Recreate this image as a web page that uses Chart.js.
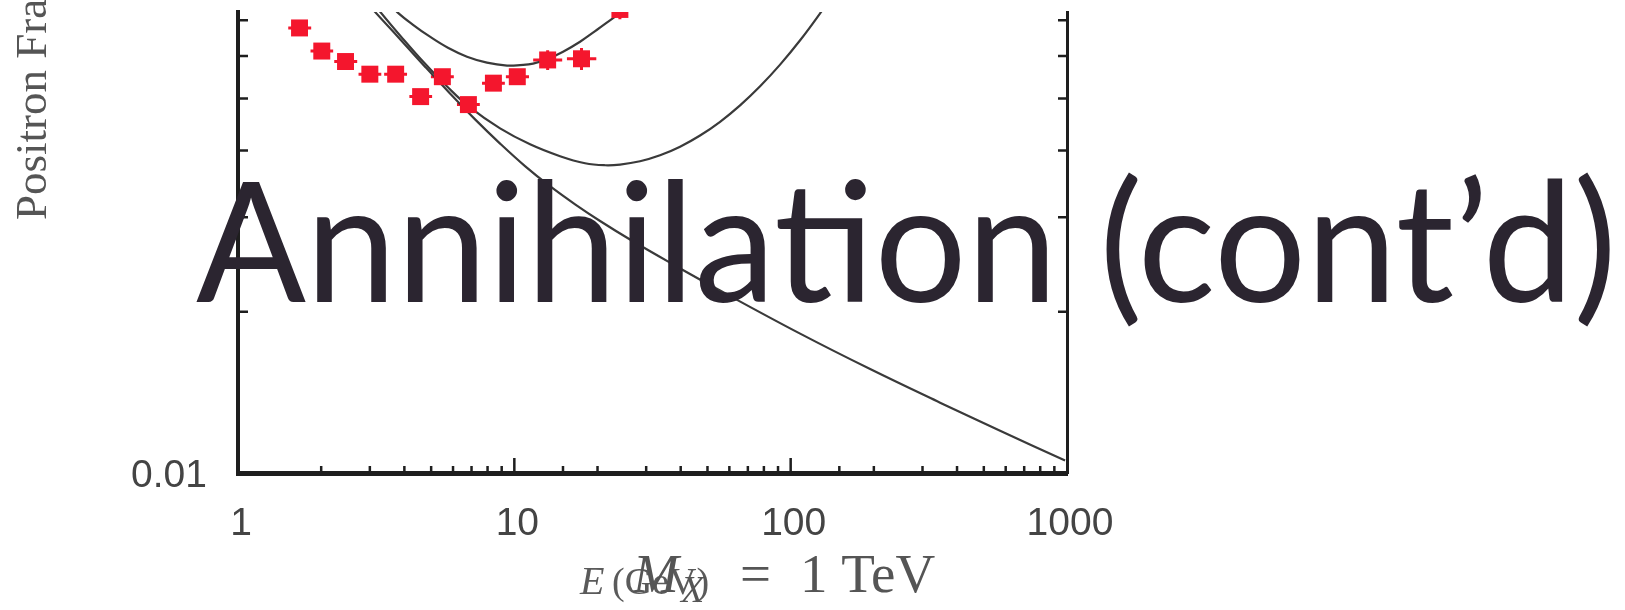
<!DOCTYPE html>
<html>
<head>
<meta charset="utf-8">
<script src="https://cdn.jsdelivr.net/npm/chart.js@4.4.1/dist/chart.umd.min.js"></script>
<style>
html,body{margin:0;padding:0;background:#ffffff;}
#wrap{position:relative;width:1625px;height:610px;overflow:hidden;}
</style>
</head>
<body>
<div id="wrap"><canvas id="c" width="1625" height="610"></canvas></div>
<script>
// ---------------- data ----------------
// measured points (red squares)
const heatEnergy     = [1.67, 2.01, 2.45, 3.00, 3.72, 4.58, 5.49, 6.82, 8.40, 10.25, 13.2, 17.5, 24.1];
const heatFraction   = [0.0677, 0.0613, 0.0586, 0.0555, 0.0555, 0.0504, 0.0549, 0.0487, 0.0534, 0.0549, 0.0590, 0.0593, 0.0733];
const heatFracErr    = [0.0015, 0.0015, 0.0015, 0.0015, 0.0015, 0.0015, 0.0015, 0.0015, 0.0015, 0.0015, 0.0025, 0.0028, 0.0030];
const heatEnergyLow  = [1.52, 1.83, 2.23, 2.73, 3.38, 4.17, 4.99, 6.20, 7.64, 9.32, 11.7, 15.5, 21.3];
const heatEnergyHigh = [1.84, 2.21, 2.70, 3.30, 4.09, 5.04, 6.04, 7.50, 9.24, 11.3, 14.9, 19.8, 27.2];

// background only curve (falling line)
const bgEnergy   = [2.98, 3.13, 3.86, 4.75, 5.85, 7.21, 8.88, 10.93, 13.46, 16.59, 20.43, 26.22, 36.60, 55.53, 108.2, 193.9, 347.3, 572.7, 984.2];
const bgFraction = [0.07474, 0.07255, 0.06450, 0.05733, 0.05108, 0.04570, 0.04119, 0.03739, 0.03429, 0.03172, 0.02953, 0.02727, 0.02469, 0.02190, 0.01820, 0.01563, 0.01353, 0.01199, 0.01055];

// background + annihilation signal, lower curve
const lowSigEnergy   = [3.16, 3.27, 3.92, 4.71, 5.71, 6.91, 8.88, 11.40, 14.64, 18.03, 21.30, 24.13, 28.50, 33.68, 39.79, 47.00, 55.53, 65.60, 77.51, 91.56, 108.2, 127.8, 144.8];
const lowSigFraction = [0.07442, 0.07255, 0.06492, 0.05833, 0.05263, 0.04810, 0.04397, 0.04106, 0.03901, 0.03785, 0.03753, 0.03764, 0.03818, 0.03917, 0.04064, 0.04264, 0.04523, 0.04854, 0.05269, 0.05783, 0.06420, 0.07209, 0.07923];

// background + annihilation signal, upper curve
const highSigEnergy   = [3.55, 3.76, 4.30, 4.95, 5.75, 6.74, 7.96, 9.41, 10.49, 11.69, 13.24, 15.01, 17.29, 19.92, 22.57, 25.58];
const highSigFraction = [0.0751, 0.07255, 0.06862, 0.06520, 0.06218, 0.05984, 0.05833, 0.05759, 0.05770, 0.05807, 0.05933, 0.06114, 0.06381, 0.06718, 0.07042, 0.07379];

// axes
const xRange = [1, 1000];
const yRange = [0.01, 0.0725];
const xTickLabels = ['1', '10', '100', '1000'];
const yTickLabels = ['0.01'];

// texts
const slideTitle = 'Annihilation (cont\u2019d)';
const yAxisTitle = 'Positron Fraction';
const xAxisTitleVar = 'E';
const xAxisTitleUnit = '(GeV)';
const massVar = 'M';
const massSub = 'X';
const massEq = '=';
const massValue = '1 TeV';

// ---------------- chart ----------------
const RED = '#f4162d';
const LINE = '#3a3a3a';
const AXIS = '#1e1e1e';

const pts = (xs, ys) => xs.map((v, i) => ({x: v, y: ys[i]}));
const isPow10 = v => Math.abs(Math.log10(v) - Math.round(Math.log10(v))) < 1e-6;
const isHundredth = v => Math.abs(v * 100 - Math.round(v * 100)) < 1e-6;

const overlay = {
  id: 'overlay',
  beforeDatasetsDraw(chart) {
    const {ctx, chartArea: a, scales: {x, y}} = chart;
    ctx.save();
    ctx.beginPath();
    ctx.rect(a.left, a.top, a.right - a.left, a.bottom - a.top);
    ctx.clip();
    ctx.strokeStyle = RED;
    ctx.lineWidth = 3;
    ctx.beginPath();
    heatEnergy.forEach((e, i) => {
      const py = y.getPixelForValue(heatFraction[i]);
      const px = x.getPixelForValue(e);
      ctx.moveTo(x.getPixelForValue(heatEnergyLow[i]), py);
      ctx.lineTo(x.getPixelForValue(heatEnergyHigh[i]), py);
      ctx.moveTo(px, y.getPixelForValue(heatFraction[i] - heatFracErr[i]));
      ctx.lineTo(px, y.getPixelForValue(heatFraction[i] + heatFracErr[i]));
    });
    ctx.stroke();
    ctx.restore();
  },
  afterDraw(chart) {
    const {ctx, chartArea: a, scales: {x, y}} = chart;
    // inward tick marks
    ctx.save();
    ctx.strokeStyle = AXIS;
    ctx.lineWidth = 2.5;
    ctx.beginPath();
    x.ticks.forEach(t => {
      const v = t.value;
      if (v <= x.min * 1.0001 || v >= x.max * 0.9999) return;
      const px = x.getPixelForValue(v);
      const len = isPow10(v) ? 15 : 7;
      ctx.moveTo(px, a.bottom);
      ctx.lineTo(px, a.bottom - len);
    });
    y.ticks.forEach(t => {
      const v = t.value;
      if (!isHundredth(v) || v <= y.min * 1.0001 || v >= y.max * 0.995) return;
      const py = y.getPixelForValue(v);
      ctx.moveTo(a.left, py); ctx.lineTo(a.left + 10, py);
      ctx.moveTo(a.right, py); ctx.lineTo(a.right - 9, py);
    });
    ctx.stroke();
    ctx.restore();

    // y axis title (rotated, reads upward)
    ctx.save();
    ctx.fillStyle = '#555555';
    ctx.font = '45px "Liberation Serif", serif';
    ctx.textAlign = 'left';
    ctx.textBaseline = 'alphabetic';
    ctx.translate(46, 220);
    ctx.rotate(-Math.PI / 2);
    ctx.fillText(yAxisTitle, 0, 0);
    ctx.restore();

    // x axis title
    ctx.save();
    ctx.fillStyle = '#5a5a5a';
    ctx.textBaseline = 'alphabetic';
    ctx.font = 'italic 40px "Liberation Serif", serif';
    ctx.fillText(xAxisTitleVar, 580, 594);
    ctx.font = '38px "Liberation Serif", serif';
    ctx.fillText(xAxisTitleUnit, 612, 594);
    ctx.restore();

    // M_X = 1 TeV
    ctx.save();
    ctx.fillStyle = '#555555';
    ctx.textBaseline = 'alphabetic';
    ctx.font = 'italic 55px "Liberation Serif", serif';
    ctx.fillText(massVar, 633, 592);
    ctx.font = 'italic 38px "Liberation Serif", serif';
    ctx.fillText(massSub, 681, 602);
    ctx.font = '55px "Liberation Serif", serif';
    ctx.fillText(massEq, 740, 592);
    ctx.fillText(massValue, 800, 592);
    ctx.restore();

    // slide title on top
    ctx.save();
    ctx.fillStyle = '#2b2530';
    ctx.textBaseline = 'alphabetic';
    ctx.font = '167px Lato, "Open Sans", sans-serif';
    const w = ctx.measureText(slideTitle).width;
    const sx = 1421 / w;
    ctx.translate(196, 302);
    ctx.scale(sx, 1);
    ctx.fillText(slideTitle, 0, 0);
    ctx.restore();
  }
};

const curveStyle = {
  showLine: true, pointRadius: 0, borderColor: LINE, borderWidth: 2.2,
  tension: 0.4, cubicInterpolationMode: 'default', capBezierPoints: false
};

new Chart(document.getElementById('c'), {
  type: 'scatter',
  data: {
    datasets: [
      {
        label: 'HEAT',
        data: pts(heatEnergy, heatFraction),
        pointStyle: 'rect',
        pointRadius: 12,
        pointBackgroundColor: RED,
        pointBorderWidth: 0,
        borderWidth: 0,
        order: 0
      },
      Object.assign({label: 'background', data: pts(bgEnergy, bgFraction), order: 3}, curveStyle),
      Object.assign({label: 'signal low', data: pts(lowSigEnergy, lowSigFraction), order: 2}, curveStyle),
      Object.assign({label: 'signal high', data: pts(highSigEnergy, highSigFraction), order: 1}, curveStyle)
    ]
  },
  options: {
    responsive: false,
    animation: false,
    devicePixelRatio: 1,
    events: [],
    layout: {padding: {left: 0, top: 10, right: 558, bottom: 0}},
    plugins: {legend: {display: false}, tooltip: {enabled: false}, title: {display: false}},
    scales: {
      x: {
        type: 'logarithmic',
        position: 'bottom',
        min: xRange[0], max: xRange[1],
        grid: {display: false, drawTicks: false},
        border: {display: true, width: 5, color: AXIS},
        ticks: {
          autoSkip: false, maxRotation: 0, padding: 28, labelOffset: 3,
          color: '#444444',
          font: {family: '"Liberation Sans", Arial, sans-serif', size: 39},
          callback: v => {
            const s = String(Math.round(v));
            return isPow10(v) && xTickLabels.includes(s) ? s : '';
          }
        },
        afterFit: s => { s.height = 137; s.paddingLeft = 0; s.paddingRight = 0; }
      },
      y: {
        type: 'logarithmic',
        position: 'left',
        min: yRange[0], max: yRange[1],
        grid: {display: false, drawTicks: false},
        border: {display: true, width: 4, color: AXIS},
        ticks: {
          autoSkip: false, padding: 31, labelOffset: 3,
          color: '#444444',
          font: {family: '"Liberation Sans", Arial, sans-serif', size: 39},
          callback: v => {
            const s = v.toFixed(2);
            return Math.abs(v - parseFloat(s)) < 1e-9 && yTickLabels.includes(s) ? s : '';
          }
        },
        afterFit: s => { s.width = 238; s.paddingTop = 0; s.paddingBottom = 0; }
      },
      y2: {
        type: 'logarithmic',
        position: 'right',
        min: yRange[0], max: yRange[1],
        grid: {display: false, drawTicks: false},
        border: {display: true, width: 3, color: AXIS},
        ticks: {display: false},
        afterFit: s => { s.width = 0; }
      }
    }
  },
  plugins: [overlay]
});
</script>
</body>
</html>
